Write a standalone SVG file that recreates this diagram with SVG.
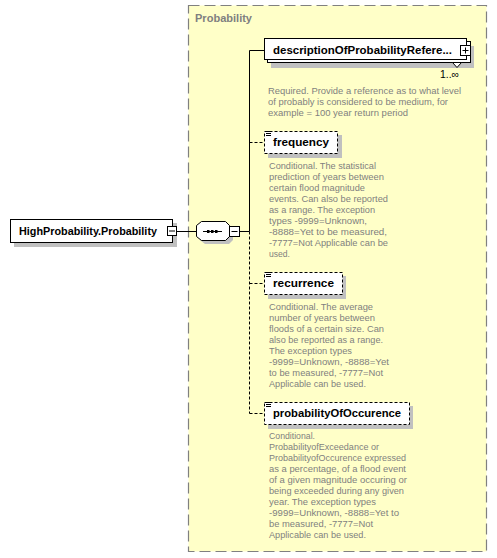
<svg xmlns="http://www.w3.org/2000/svg" width="497" height="558" viewBox="0 0 497 558">
<style>
.grp{fill:#FFFFC8;stroke:#808080;stroke-width:1.2;stroke-dasharray:11 5}
.ttl{font-family:"Liberation Sans",Arial,sans-serif;font-weight:bold;font-size:11px;fill:#808080}
.box{fill:#fff;stroke:#000;stroke-width:1}
.dbox{fill:#fff;stroke:#000;stroke-width:1;stroke-dasharray:3 2}
.shd{fill:#C0C0C0;stroke:none}
.nm{font-family:"Liberation Sans",Arial,sans-serif;font-weight:bold;font-size:11.5px;fill:#000}
.ds{font-family:"Liberation Sans",Arial,sans-serif;font-size:9.5px;fill:#7F7F7F}
.ln{stroke:#000;stroke-width:1;fill:none}
.dl{stroke:#000;stroke-width:1;fill:none;stroke-dasharray:3 2}
.ico{stroke:#000;stroke-width:1}
</style>

<g id="group-probability">
<rect class="grp" x="188.5" y="5.5" width="298" height="546"/>
<text class="ttl" x="195" y="22" textLength="57" lengthAdjust="spacingAndGlyphs">Probability</text>
</g>

<g id="connectors">
<line class="ln" x1="177" y1="231.5" x2="196" y2="231.5"/>
<line class="ln" x1="239.5" y1="231.5" x2="249.5" y2="231.5"/>
<polyline class="ln" points="264,50.5 249.5,50.5 249.5,231.5"/>
<line class="dl" x1="249.5" y1="231.5" x2="249.5" y2="413.5"/>
<line class="dl" x1="249.5" y1="142.5" x2="264" y2="142.5"/>
<line class="dl" x1="249.5" y1="283.5" x2="264" y2="283.5"/>
<line class="dl" x1="249.5" y1="413.5" x2="264" y2="413.5"/>
</g>

<g id="node-highprobability">
<rect class="shd" x="14" y="223" width="163" height="24"/>
<rect class="box" x="10.5" y="219.5" width="162" height="23"/>
<text class="nm" x="19" y="235" textLength="138" lengthAdjust="spacingAndGlyphs">HighProbability.Probability</text>
<rect class="box" x="167.5" y="226.5" width="9" height="9"/>
<line class="ico" x1="169" y1="231" x2="175" y2="231"/>
</g>

<g id="node-sequence">
<polygon class="shd" points="205,225 229,225 233,229 233,240 229,244 205,244 200,240 200,229"/>
<polygon class="box" points="201.5,221.5 225.5,221.5 229.5,225.5 229.5,236.5 225.5,240.5 201.5,240.5 196.5,236.5 196.5,225.5"/>
<line class="ln" x1="203" y1="231.5" x2="222" y2="231.5"/>
<rect x="207" y="230" width="2.5" height="3" fill="#000"/>
<rect x="211" y="230" width="2.5" height="3" fill="#000"/>
<rect x="215" y="230" width="2.5" height="3" fill="#000"/>
<rect class="box" x="229.5" y="226.5" width="10" height="10"/>
<line class="ico" x1="231.5" y1="231.5" x2="237.5" y2="231.5"/>
</g>

<g id="node-description">
<rect class="shd" x="271" y="46" width="203" height="22"/>
<rect class="box" x="267.5" y="41.5" width="203" height="21"/>
<rect class="box" x="264.5" y="38.5" width="202" height="21"/>
<text class="nm" x="273" y="54" textLength="179" lengthAdjust="spacingAndGlyphs">descriptionOfProbabilityRefere...</text>
<rect class="box" x="460.5" y="45.5" width="10" height="10"/>
<line class="ico" x1="462.5" y1="50.5" x2="468.5" y2="50.5"/>
<line class="ico" x1="465.5" y1="47.5" x2="465.5" y2="53.5"/>
<polygon points="452.5,62.5 461.5,62.5 457,67.5" fill="#fff" stroke="#000" stroke-width="1"/>
<text x="440" y="78" font-family="Liberation Sans, Arial, sans-serif" font-size="10.5px" fill="#000" textLength="19" lengthAdjust="spacingAndGlyphs">1..∞</text>
<text class="ds" x="268" y="93.5" textLength="193" lengthAdjust="spacingAndGlyphs">Required. Provide a reference as to what level</text>
<text class="ds" x="268" y="104.5" textLength="180" lengthAdjust="spacingAndGlyphs">of probably is considered to be medium, for</text>
<text class="ds" x="268" y="115.5" textLength="140" lengthAdjust="spacingAndGlyphs">example = 100 year return period</text>
</g>

<g id="node-frequency">
<rect class="shd" x="268" y="135" width="74" height="23"/>
<rect class="dbox" x="264.5" y="131.5" width="73" height="22"/>
<line class="ico" x1="266" y1="131.5" x2="271" y2="131.5"/>
<line class="ico" x1="266" y1="133.5" x2="271" y2="133.5"/>
<line class="ico" x1="266" y1="135.5" x2="271" y2="135.5"/>
<text class="nm" x="273" y="146" textLength="56" lengthAdjust="spacingAndGlyphs">frequency</text>
<text class="ds" x="269" y="168.5" textLength="107" lengthAdjust="spacingAndGlyphs">Conditional. The statistical</text>
<text class="ds" x="269" y="179.5" textLength="115" lengthAdjust="spacingAndGlyphs">prediction of years between</text>
<text class="ds" x="269" y="190.5" textLength="96" lengthAdjust="spacingAndGlyphs">certain flood magnitude</text>
<text class="ds" x="269" y="201.5" textLength="119" lengthAdjust="spacingAndGlyphs">events. Can also be reported</text>
<text class="ds" x="269" y="212.5" textLength="106" lengthAdjust="spacingAndGlyphs">as a range. The exception</text>
<text class="ds" x="269" y="223.5" textLength="98" lengthAdjust="spacingAndGlyphs">types -9999=Unknown,</text>
<text class="ds" x="269" y="234.5" textLength="118" lengthAdjust="spacingAndGlyphs">-8888=Yet to be measured,</text>
<text class="ds" x="269" y="245.5" textLength="119" lengthAdjust="spacingAndGlyphs">-7777=Not Applicable can be</text>
<text class="ds" x="269" y="256.5" textLength="21" lengthAdjust="spacingAndGlyphs">used.</text>
</g>

<g id="node-recurrence">
<rect class="shd" x="268" y="276" width="78" height="23"/>
<rect class="dbox" x="264.5" y="272.5" width="78" height="22"/>
<line class="ico" x1="266" y1="272.5" x2="271" y2="272.5"/>
<line class="ico" x1="266" y1="274.5" x2="271" y2="274.5"/>
<line class="ico" x1="266" y1="276.5" x2="271" y2="276.5"/>
<text class="nm" x="273" y="287" textLength="61" lengthAdjust="spacingAndGlyphs">recurrence</text>
<text class="ds" x="269" y="310" textLength="104" lengthAdjust="spacingAndGlyphs">Conditional. The average</text>
<text class="ds" x="269" y="321" textLength="106" lengthAdjust="spacingAndGlyphs">number of years between</text>
<text class="ds" x="269" y="332" textLength="115" lengthAdjust="spacingAndGlyphs">floods of a certain size. Can</text>
<text class="ds" x="269" y="343" textLength="114" lengthAdjust="spacingAndGlyphs">also be reported as a range.</text>
<text class="ds" x="269" y="354" textLength="83" lengthAdjust="spacingAndGlyphs">The exception types</text>
<text class="ds" x="269" y="365" textLength="120" lengthAdjust="spacingAndGlyphs">-9999=Unknown, -8888=Yet</text>
<text class="ds" x="269" y="376" textLength="114" lengthAdjust="spacingAndGlyphs">to be measured, -7777=Not</text>
<text class="ds" x="269" y="387" textLength="97" lengthAdjust="spacingAndGlyphs">Applicable can be used.</text>
</g>

<g id="node-probabilityofoccurence">
<rect class="shd" x="268" y="406" width="145" height="23"/>
<rect class="dbox" x="264.5" y="402.5" width="145" height="22"/>
<line class="ico" x1="266" y1="402.5" x2="271" y2="402.5"/>
<line class="ico" x1="266" y1="404.5" x2="271" y2="404.5"/>
<line class="ico" x1="266" y1="406.5" x2="271" y2="406.5"/>
<text class="nm" x="273" y="417" textLength="128" lengthAdjust="spacingAndGlyphs">probabilityOfOccurence</text>
<text class="ds" x="269" y="439" textLength="46" lengthAdjust="spacingAndGlyphs">Conditional.</text>
<text class="ds" x="269" y="450" textLength="110" lengthAdjust="spacingAndGlyphs">ProbabilityofExceedance or</text>
<text class="ds" x="269" y="461" textLength="137" lengthAdjust="spacingAndGlyphs">ProbabilityofOccurence expressed</text>
<text class="ds" x="269" y="472" textLength="137" lengthAdjust="spacingAndGlyphs">as a percentage, of a flood event</text>
<text class="ds" x="269" y="483" textLength="138" lengthAdjust="spacingAndGlyphs">of a given magnitude occuring or</text>
<text class="ds" x="269" y="494" textLength="135" lengthAdjust="spacingAndGlyphs">being exceeded during any given</text>
<text class="ds" x="269" y="505" textLength="107" lengthAdjust="spacingAndGlyphs">year. The exception types</text>
<text class="ds" x="269" y="516" textLength="130" lengthAdjust="spacingAndGlyphs">-9999=Unknown, -8888=Yet to</text>
<text class="ds" x="269" y="527" textLength="104" lengthAdjust="spacingAndGlyphs">be measured, -7777=Not</text>
<text class="ds" x="269" y="538" textLength="97" lengthAdjust="spacingAndGlyphs">Applicable can be used.</text>
</g>
</svg>
